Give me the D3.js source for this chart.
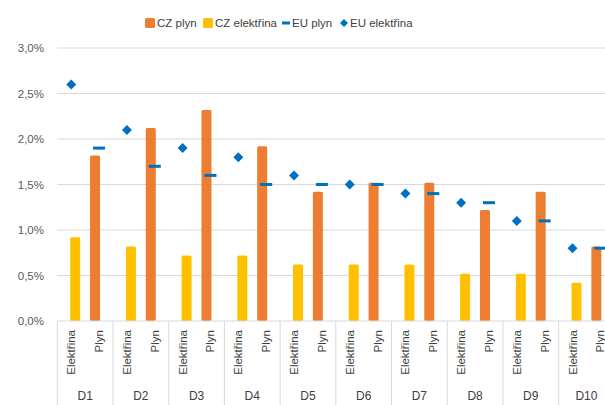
<!DOCTYPE html>
<html>
<head>
<meta charset="utf-8">
<script src="https://cdn.jsdelivr.net/npm/d3@7"></script>
<style>
  body { margin: 0; background: #fff; }
  svg { font-family: "Liberation Sans", Arial, sans-serif; }
</style>
</head>
<body>
<svg id="chart" width="605" height="405"></svg>
<script>
// data
var groups = ["D1", "D2", "D3", "D4", "D5", "D6", "D7", "D8", "D9", "D10"];
var subs = ["Elektřina", "Plyn"];
var czPlyn = [1.82, 2.12, 2.32, 1.92, 1.42, 1.52, 1.52, 1.22, 1.42, 0.82];
var czElektrina = [0.92, 0.82, 0.72, 0.72, 0.62, 0.62, 0.62, 0.52, 0.52, 0.42];
var euPlyn = [1.9, 1.7, 1.6, 1.5, 1.5, 1.5, 1.4, 1.3, 1.1, 0.8];
var euElektrina = [2.6, 2.1, 1.9, 1.8, 1.6, 1.5, 1.4, 1.3, 1.1, 0.8];
var yTicks = [0, 0.5, 1, 1.5, 2, 2.5, 3];

(function () {
var orange = "#ED7D31", yellow = "#FFC000", blue = "#0070C0";

var svg = d3.select("#chart");
var mLeft = 57.3, mRight = 614.3, mTop = 48, mBottom = 321;

var x0 = d3.scaleBand().domain(groups).range([mLeft, mRight]);
var x1 = d3.scaleBand().domain(subs).range([0, x0.bandwidth()]);
var y = d3.scaleLinear().domain([0, 3]).range([mBottom, mTop]);

var fmt = function (d) { return d3.format(".1f")(d).replace(".", ",") + "%"; };

// gridlines
svg.append("g").selectAll("line").data(yTicks.slice(1)).enter().append("line")
  .attr("x1", mLeft).attr("x2", 605)
  .attr("y1", function (d) { return y(d); }).attr("y2", function (d) { return y(d); })
  .attr("stroke", "#D9D9D9").attr("stroke-width", 1);

// y labels
svg.append("g").selectAll("text").data(yTicks).enter().append("text")
  .attr("x", 44).attr("y", function (d) { return y(d) + 4; })
  .attr("text-anchor", "end").attr("font-size", 11.5).attr("fill", "#595959")
  .text(fmt);

// bars
var barW = 10, shift = 4;
svg.append("g").selectAll("rect").data(czElektrina).enter().append("rect")
  .attr("x", function (d, i) { return x0(groups[i]) + x1("Elektřina") + x1.bandwidth() / 2 + shift - barW / 2; })
  .attr("y", function (d) { return y(d); })
  .attr("width", barW).attr("height", function (d) { return mBottom - y(d); })
  .attr("rx", 1.5).attr("fill", yellow);

svg.append("g").selectAll("rect").data(czPlyn).enter().append("rect")
  .attr("x", function (d, i) { return x0(groups[i]) + x1("Plyn") + x1.bandwidth() / 2 - shift - barW / 2; })
  .attr("y", function (d) { return y(d); })
  .attr("width", barW).attr("height", function (d) { return mBottom - y(d); })
  .attr("rx", 1.5).attr("fill", orange);

// EU plyn dashes
svg.append("g").selectAll("rect").data(euPlyn).enter().append("rect")
  .attr("x", function (d, i) { return x0(groups[i]) + x1("Plyn") + x1.bandwidth() / 2 - 6; })
  .attr("y", function (d) { return y(d) - 1.5; })
  .attr("width", 12).attr("height", 3).attr("fill", blue);

// EU elektrina diamonds
svg.append("g").selectAll("path").data(euElektrina).enter().append("path")
  .attr("transform", function (d, i) {
    return "translate(" + (x0(groups[i]) + x1("Elektřina") + x1.bandwidth() / 2) + "," + y(d) + ")";
  })
  .attr("d", "M0,-5L5,0L0,5L-5,0Z").attr("fill", blue);

// x axis
svg.append("line").attr("x1", mLeft).attr("x2", 605).attr("y1", mBottom).attr("y2", mBottom)
  .attr("stroke", "#D9D9D9");
svg.append("g").selectAll("line").data(groups).enter().append("line")
  .attr("x1", function (d) { return x0(d); }).attr("x2", function (d) { return x0(d); })
  .attr("y1", mBottom).attr("y2", 405)
  .attr("stroke", "#D9D9D9");

var subLabels = [];
groups.forEach(function (g) { subs.forEach(function (s) { subLabels.push({ g: g, s: s }); }); });
svg.append("g").selectAll("text").data(subLabels).enter().append("text")
  .attr("transform", function (d) {
    return "translate(" + (x0(d.g) + x1(d.s) + x1.bandwidth() / 2 + 4) + ",330) rotate(-90)";
  })
  .attr("text-anchor", "end").attr("font-size", 11.5).attr("fill", "#404040")
  .text(function (d) { return d.s; });

svg.append("g").selectAll("text").data(groups).enter().append("text")
  .attr("x", function (d) { return x0(d) + x0.bandwidth() / 2; })
  .attr("y", 400)
  .attr("text-anchor", "middle").attr("font-size", 12).attr("fill", "#404040")
  .text(function (d) { return d; });

// legend
var lg = svg.append("g").attr("font-size", 11.5).attr("fill", "#404040");
lg.append("rect").attr("x", 145).attr("y", 18).attr("width", 10).attr("height", 10).attr("rx", 1.5).attr("fill", orange);
lg.append("text").attr("x", 157).attr("y", 27).text("CZ plyn");
lg.append("rect").attr("x", 203).attr("y", 18).attr("width", 10).attr("height", 10).attr("rx", 1.5).attr("fill", yellow);
lg.append("text").attr("x", 215).attr("y", 27).text("CZ elektřina");
lg.append("rect").attr("x", 282).attr("y", 21.5).attr("width", 8).attr("height", 3).attr("fill", blue);
lg.append("text").attr("x", 292).attr("y", 27).text("EU plyn");
lg.append("path").attr("transform", "translate(344,23)").attr("d", "M0,-4L4,0L0,4L-4,0Z").attr("fill", blue);
lg.append("text").attr("x", 350).attr("y", 27).text("EU elektřina");
})();
</script>
</body>
</html>
